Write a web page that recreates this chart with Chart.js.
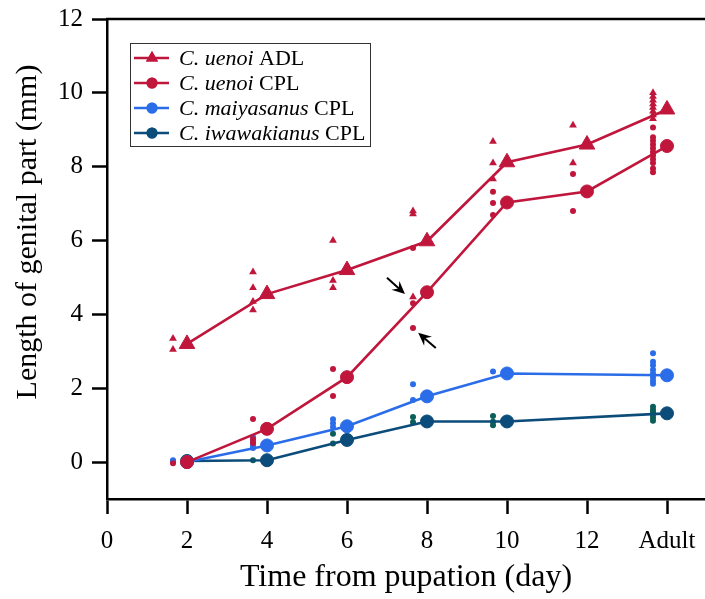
<!DOCTYPE html>
<html>
<head>
<meta charset="utf-8">
<script src="https://cdn.jsdelivr.net/npm/chart.js@4.4.1/dist/chart.umd.min.js"></script>
<style>
html, body { margin: 0; padding: 0; background: #fff; }
#wrap { width: 705px; height: 599px; position: relative; }
</style>
</head>
<body>
<div id="wrap"><canvas id="genitalChart"></canvas></div>
<script>
// Days after pupation; "Adult" is drawn at position 14
const days = [2, 4, 6, 8, 10, 12, 14];
const cplDays = [2, 4, 6, 8, 10, 14];
const xTicks = [0, 2, 4, 6, 8, 10, 12, 14];
const xTickLabels = ['0', '2', '4', '6', '8', '10', '12', 'Adult'];
const yTicks = [0, 2, 4, 6, 8, 10, 12];

// Means (large markers)
const uenoiAdlMean = [3.2, 4.55, 5.2, 5.98, 8.12, 8.6, 9.55];
const uenoiCplMean = [0.0, 0.9, 2.3, 4.6, 7.03, 7.33, 8.56];
const maiyasanusMean = [0.0, 0.45, 0.97, 1.78, 2.4, 2.35];
const iwawakianusMean = [0.03, 0.05, 0.6, 1.1, 1.1, 1.32];

// Individual measurements, one list per day (small markers, drawn slightly left)
const indivShift = 0.35;
const uenoiAdlIndiv = [
    [3.35, 3.05],
    [5.15, 4.72, 4.35, 4.12],
    [6.0, 4.92, 4.72],
    [6.8, 6.72, 4.47],
    [8.68, 8.1, 7.67],
    [9.12, 8.1],
    [10.0, 9.9, 9.8, 9.7, 9.6, 9.5, 9.4, 9.3]
];
const uenoiCplIndiv = [
    [-0.03],
    [1.17, 0.62, 0.52],
    [2.52, 1.79],
    [5.8, 4.3, 3.63],
    [7.32, 7.02, 6.69],
    [7.8, 6.8],
    [9.06, 8.8, 8.7, 8.6, 8.5, 8.4, 8.3, 8.2, 8.1, 7.95, 7.85]
];
const maiyasanusIndiv = [
    [0.05, 0.0],
    [0.68, 0.55, 0.45, 0.38],
    [1.16, 1.05, 0.95],
    [2.11, 1.68],
    [2.45],
    [2.95, 2.72, 2.62, 2.5, 2.4, 2.3, 2.2, 2.12]
];
const iwawakianusIndiv = [
    [0.02],
    [0.05],
    [0.77, 0.5],
    [1.22, 1.08],
    [1.25, 1.09, 1.0],
    [1.5, 1.42, 1.35, 1.28, 1.2, 1.12]
];

// Arrow annotations (data coordinates): [tailX, tailY, headX, headY]
const arrowsData = [
    [7.0, 4.99, 7.45, 4.55],
    [8.22, 3.09, 7.78, 3.5]
];

const red = '#c0163c';
const blue = '#2b6de8';
const navy = '#0b4c7a';
const teal = '#0b5e5a';
const serif = "'Liberation Serif', 'Times New Roman', serif";

const toPoints = (xs, ys) => xs.map((x, i) => ({ x: x, y: ys[i] }));
const toIndiv = (xs, lists) => xs.flatMap((x, i) => lists[i].map(v => ({ x: x - indivShift, y: v })));

const meanSet = (label, data, color, style, radius, order) => ({
    label: label,
    data: data,
    borderColor: color,
    backgroundColor: color,
    borderWidth: 2.6,
    pointStyle: style,
    pointRadius: radius,
    pointBorderWidth: 1,
    pointBorderColor: color,
    pointBackgroundColor: color,
    showLine: true,
    order: order
});
const indivSet = (label, data, color, style, radius) => ({
    label: label,
    data: data,
    borderColor: color,
    backgroundColor: color,
    showLine: false,
    pointStyle: style,
    pointRadius: radius,
    pointBorderWidth: 0,
    pointBackgroundColor: color,
    order: 10
});

const legendItems = [
    { italic: 'C. uenoi', plain: ' ADL', color: red, style: 'triangle' },
    { italic: 'C. uenoi', plain: ' CPL', color: red, style: 'circle' },
    { italic: 'C. maiyasanus', plain: ' CPL', color: blue, style: 'circle' },
    { italic: 'C. iwawakianus', plain: ' CPL', color: navy, style: 'circle' }
];

const extrasPlugin = {
    id: 'extras',
    afterDraw(chart) {
        const ctx = chart.ctx;
        const area = chart.chartArea;
        const xs = chart.scales.x;
        const ys = chart.scales.y;
        ctx.save();
        // top frame line
        ctx.strokeStyle = '#000';
        ctx.lineWidth = 2.5;
        ctx.beginPath();
        ctx.moveTo(area.left - 1, area.top);
        ctx.lineTo(area.right, area.top);
        ctx.stroke();

        // y axis title (sits a bit above the axis centre in the original)
        ctx.save();
        ctx.translate(28, 232);
        ctx.rotate(-Math.PI / 2);
        ctx.fillStyle = '#000';
        ctx.font = '30px ' + serif;
        ctx.textAlign = 'center';
        ctx.textBaseline = 'middle';
        ctx.fillText('Length of genital part (mm)', 0, 0);
        ctx.restore();

        // arrows
        ctx.fillStyle = '#000';
        ctx.strokeStyle = '#000';
        ctx.lineWidth = 2;
        arrowsData.forEach(a => {
            const x1 = xs.getPixelForValue(a[0]), y1 = ys.getPixelForValue(a[1]);
            const x2 = xs.getPixelForValue(a[2]), y2 = ys.getPixelForValue(a[3]);
            const ang = Math.atan2(y2 - y1, x2 - x1);
            const hl = 13, hw = 6;
            const c = Math.cos(ang), s = Math.sin(ang);
            ctx.beginPath();
            ctx.moveTo(x1, y1);
            ctx.lineTo(x2 - c * hl * 0.6, y2 - s * hl * 0.6);
            ctx.stroke();
            ctx.beginPath();
            ctx.moveTo(x2, y2);
            ctx.lineTo(x2 - c * hl - s * hw, y2 - s * hl + c * hw);
            ctx.lineTo(x2 - c * hl * 0.65, y2 - s * hl * 0.65);
            ctx.lineTo(x2 - c * hl + s * hw, y2 - s * hl - c * hw);
            ctx.closePath();
            ctx.fill();
        });

        // legend box
        const bx = 130, by = 43, bw = 240, bh = 103;
        ctx.fillStyle = '#fff';
        ctx.fillRect(bx, by, bw, bh);
        ctx.strokeStyle = '#333';
        ctx.lineWidth = 1;
        ctx.strokeRect(bx + 0.5, by + 0.5, bw, bh);
        legendItems.forEach((item, i) => {
            const y = by + 15 + i * 25;
            ctx.strokeStyle = item.color;
            ctx.fillStyle = item.color;
            ctx.lineWidth = 2.6;
            ctx.beginPath();
            ctx.moveTo(bx + 4, y);
            ctx.lineTo(bx + 39, y);
            ctx.stroke();
            Chart.helpers.drawPoint(ctx, { pointStyle: item.style, radius: item.style === 'triangle' ? 7 : 5.5, borderWidth: 0 }, bx + 22, y);
            ctx.fill();
            ctx.fillStyle = '#000';
            ctx.textBaseline = 'middle';
            ctx.font = 'italic 22px ' + serif;
            ctx.fillText(item.italic, bx + 49, y + 1);
            const w = ctx.measureText(item.italic).width;
            ctx.font = '22px ' + serif;
            ctx.fillText(item.plain, bx + 49 + w, y + 1);
        });
        ctx.restore();
    }
};

Chart.defaults.font.family = serif;
Chart.defaults.color = '#000';

const genitalChart = new Chart(document.getElementById('genitalChart').getContext('2d'), {
    type: 'line',
    data: {
        datasets: [
            meanSet('C. uenoi CPL', toPoints(days, uenoiCplMean), red, 'circle', 6.5, 0),
            meanSet('C. uenoi ADL', toPoints(days, uenoiAdlMean), red, 'triangle', 9, 1),
            meanSet('C. maiyasanus CPL', toPoints(cplDays, maiyasanusMean), blue, 'circle', 6.5, 2),
            meanSet('C. iwawakianus CPL', toPoints(cplDays, iwawakianusMean), navy, 'circle', 6.5, 3),
            indivSet('uenoi ADL ind.', toIndiv(days, uenoiAdlIndiv), red, 'triangle', 4.5),
            indivSet('uenoi CPL ind.', toIndiv(days, uenoiCplIndiv), red, 'circle', 3),
            indivSet('maiyasanus ind.', toIndiv(cplDays, maiyasanusIndiv), blue, 'circle', 3),
            indivSet('iwawakianus ind.', toIndiv(cplDays, iwawakianusIndiv), teal, 'circle', 3)
        ]
    },
    options: {
        responsive: true,
        maintainAspectRatio: false,
        animation: false,
        layout: { autoPadding: false, padding: { top: 19, right: 0, bottom: 0, left: 0 } },
        scales: {
            x: {
                type: 'linear',
                min: 0,
                max: 14.95,
                afterBuildTicks: (axis) => { axis.ticks = xTicks.map(v => ({ value: v })); },
                afterFit: (axis) => {
                    axis.height = 100;
                    axis.paddingLeft = 0;
                    axis.paddingRight = 0;
                },
                ticks: {
                    font: { size: 25 },
                    color: '#000',
                    padding: 12,
                    maxRotation: 0,
                    autoSkip: false,
                    callback: (v) => xTickLabels[xTicks.indexOf(v)]
                },
                grid: { drawOnChartArea: false, drawTicks: true, tickLength: 15, tickWidth: 2.5, tickColor: '#000', color: '#000' },
                border: { display: true, color: '#000', width: 2.5 },
                title: {
                    display: true,
                    text: 'Time from pupation (day)',
                    font: { size: 32 },
                    color: '#000',
                    padding: { top: 0, bottom: 2 }
                }
            },
            y: {
                type: 'linear',
                min: -1,
                max: 12,
                afterBuildTicks: (axis) => { axis.ticks = yTicks.map(v => ({ value: v })); },
                afterFit: (axis) => {
                    axis.width = 107;
                    axis.paddingTop = 0;
                    axis.paddingBottom = 0;
                },
                ticks: {
                    font: { size: 25 },
                    color: '#000',
                    padding: 9
                },
                grid: { drawOnChartArea: false, drawTicks: true, tickLength: 15, tickWidth: 2.5, tickColor: '#000', color: '#000' },
                border: { display: true, color: '#000', width: 2.5 },
                title: { display: false }
            }
        },
        plugins: {
            legend: { display: false },
            tooltip: { enabled: false }
        }
    },
    plugins: [extrasPlugin]
});
</script>
</body>
</html>
